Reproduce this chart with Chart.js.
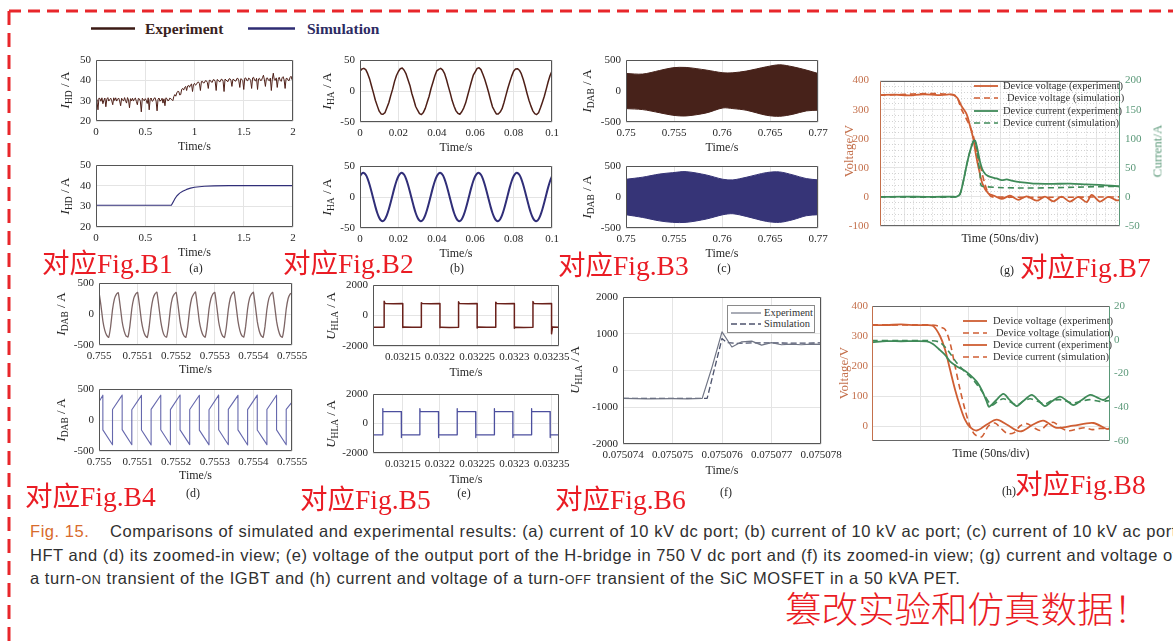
<!DOCTYPE html>
<html><head><meta charset="utf-8">
<script src="https://cdn.jsdelivr.net/npm/chart.js"></script>
<style>
html,body{margin:0;padding:0;background:#fff;}
#stage{position:relative;width:1173px;height:641px;overflow:hidden;background:#fff;font-family:'Liberation Serif',serif;}
canvas{position:absolute;}
.yt{position:absolute;white-space:nowrap;transform:translate(-50%,-50%) rotate(-90deg);font-size:13px;color:#262626;line-height:1;}
.yt sub{font-size:9.5px;vertical-align:-3px;}
.red{position:absolute;color:#ea1c24;font-family:'Liberation Serif','Noto Sans CJK SC',serif;font-size:27.5px;white-space:nowrap;transform:translateY(-50%);line-height:1;z-index:5;}
.pl{position:absolute;font-size:12px;color:#262626;transform:translate(-50%,-50%);line-height:1;}
.lg{position:absolute;font-size:10.5px;color:#333;white-space:nowrap;line-height:1;transform:translateY(-50%);}
.cap{position:absolute;left:30px;font-family:'Liberation Sans',Arial,sans-serif;font-size:16.5px;letter-spacing:0.55px;color:#303030;white-space:nowrap;transform:translateY(-50%);line-height:1;}
.sc{font-size:12.5px;}
</style></head>
<body><div id="stage"></div>
<script>
// ================= DATA =================
// (a) current of 10 kV dc port
const A_t0 = 0, A_dt = 0.01;
const A_exp = [30.5,29.6,25.5,31.3,31.0,29.7,31.4,28.5,30.2,31.3,27.0,30.8,31.5,29.8,30.6,31.2,29.9,28.0,31.4,30.1,
 31.4,29.8,30.7,31.3,29.9,27.5,31.2,30.4,29.8,31.5,30.0,28.8,31.5,30.3,26.5,31.0,29.9,31.2,29.8,30.9,
 31.3,29.6,28.0,31.1,30.9,29.8,24.5,31.2,30.6,29.9,31.0,30.2,28.6,31.4,25.5,30.8,31.3,29.7,30.0,31.2,
 31.4,29.8,25.0,30.8,31.3,29.7,30.4,31.2,28.8,30.9,27.5,31.4,31.0,29.9,30.2,31.3,30.9,30.5,30.0,32.0,
 33.0,32.2,33.8,34.6,34.5,32.8,33.0,35.6,36.0,35.2,36.5,37.0,35.0,37.2,37.5,36.6,37.8,38.2,34.5,38.0,
 38.5,37.6,38.0,39.0,39.2,38.4,35.0,39.4,39.5,38.7,38.8,39.8,39.8,39.0,36.0,40.0,40.0,39.2,39.0,40.3,
 40.3,39.5,35.0,40.4,40.1,39.4,39.3,40.5,40.5,39.6,34.5,40.6,40.2,39.6,39.5,40.7,40.8,39.9,37.0,40.5,
 40.4,39.7,39.6,40.9,41.0,39.8,36.5,40.8,40.5,39.9,35.5,41.0,41.2,40.0,39.8,41.1,40.8,39.9,36.0,41.2,
 41.5,40.0,39.7,41.0,35.5,40.7,41.0,39.9,40.0,41.3,42.5,40.2,37.0,41.0,41.2,40.1,39.8,41.1,35.0,40.6,
 43.5,40.3,40.0,41.2,36.5,40.4,41.5,40.0,39.5,41.3,41.8,40.2,36.0,40.9,41.0,40.1,39.8,41.4,42.0,40.3,
 40.5];
const A_sim_t = [0,0.765,0.78,0.80,0.82,0.85,0.88,0.92,0.96,1.0,1.05,1.1,1.2,1.35,1.5,2.0];
const A_sim   = [30.5,30.5,31.8,33.6,35.0,36.4,37.3,38.2,38.8,39.2,39.5,39.7,39.9,40.0,40.0,40.0];
const A_xticks = [0,0.5,1,1.5,2], A_xlabels = ['0','0.5','1','1.5','2'];
const A_yticks = [20,30,40,50], A_ylabels = ['20','30','40','50'];

// (b) current of 10 kV ac port
const B_t0 = 0, B_dt = 0.001;
const B_exp = [32,35.5,36.5,34.5,28,19.5,8,-3,-15,-24,-32.5,-37,-37.5,-35,-27,-19,-7.5,3,15.5,25,
 31.5,36,37,33.5,27.5,18,9,-4,-14,-25,-31,-36.5,-38,-34.5,-28,-18,-8.5,4,14,24.5,
 32.5,35,36.5,34,28.5,19,7.5,-3.5,-15.5,-24.5,-32,-36,-37.5,-33.5,-27.5,-19.5,-8,3.5,15,25.5,
 31,36.5,37.5,34.5,27,18.5,8.5,-2.5,-14.5,-25.5,-31.5,-37,-37,-34,-28.5,-18.5,-7,4.5,14.5,24,
 32,35.5,36,33.5,28,19,8,-4,-15,-24,-32,-36.5,-38,-35,-27,-18,-8.5,3,15,25,
 32];
const B_sim = [33.5,38.0,38.8,35.8,29.3,19.8,8.5,-3.7,-15.5,-25.8,-33.5,-38.0,-38.8,-35.8,-29.3,-19.8,-8.5,3.7,15.5,25.8,
 33.5,38.0,38.8,35.8,29.3,19.8,8.5,-3.7,-15.5,-25.8,-33.5,-38.0,-38.8,-35.8,-29.3,-19.8,-8.5,3.7,15.5,25.8,
 33.5,38.0,38.8,35.8,29.3,19.8,8.5,-3.7,-15.5,-25.8,-33.5,-38.0,-38.8,-35.8,-29.3,-19.8,-8.5,3.7,15.5,25.8,
 33.5,38.0,38.8,35.8,29.3,19.8,8.5,-3.7,-15.5,-25.8,-33.5,-38.0,-38.8,-35.8,-29.3,-19.8,-8.5,3.7,15.5,25.8,
 33.5,38.0,38.8,35.8,29.3,19.8,8.5,-3.7,-15.5,-25.8,-33.5,-38.0,-38.8,-35.8,-29.3,-19.8,-8.5,3.7,15.5,25.8,
 33.5];
const B_xticks = [0,0.02,0.04,0.06,0.08,0.1], B_xlabels = ['0','0.02','0.04','0.06','0.08','0.1'];
const B_yticks = [-50,0,50], B_ylabels = ['-50','0','50'];

// (c) DAB current envelope (HFT)
const C_t = [0.75,0.75174,0.75348,0.75487,0.75626,0.75835,0.76009,0.76113,0.76252,0.76461,0.766,0.76739,0.76878,0.77];
const C_exp_hi = [283,273,330,375,380,338,294,294,321,390,423,390,338,283];
const C_exp_lo = [-284,-300,-350,-391,-402,-354,-273,-284,-310,-391,-408,-375,-321,-310];
const C_sim_hi = [286,320,370,393,409,356,286,276,318,393,404,356,297,276];
const C_sim_lo = [-286,-330,-385,-409,-409,-356,-286,-270,-313,-393,-409,-366,-302,-286];
const C_xticks = [0.75,0.755,0.76,0.765,0.77], C_xlabels = ['0.75','0.755','0.76','0.765','0.77'];
const C_yticks = [-500,0,500], C_ylabels = ['-500','0','500'];

// (d) zoomed-in DAB current
const D_t0 = 0.755, D_dt = 0.000005;
const D_exp = [355,140,-110,-265,-345,-378,-210,70,245,318,
 345,125,-125,-272,-352,-372,-195,85,252,322,
 350,135,-115,-268,-348,-380,-205,75,248,325,
 352,128,-120,-275,-355,-374,-198,82,255,320,
 348,132,-118,-270,-350,-378,-202,78,250,318,
 355,130,-122,-266,-346,-376,-200,80,246,322,
 350,126,-125,-272,-352,-380,-206,72,250,326,
 358,138,-112,-268,-350,-374,-196,84,252,320,
 352,130,-120,-270,-348,-378,-204,76,248,318,
 350,134,-116,-266,-352,-376,-200,80,250,322,
 340];
const D_sim_t = [0.755,0.75501,0.75501,0.755035,0.755035,0.75506,0.75506,0.755085,0.755085,0.75511,0.75511,0.755135,0.755135,0.75516,0.75516,0.755185,0.755185,0.75521,0.75521,0.755235,0.755235,0.75526,0.75526,0.755285,0.755285,0.75531,0.75531,0.755335,0.755335,0.75536,0.75536,0.755385,0.755385,0.75541,0.75541,0.755435,0.755435,0.75546,0.75546,0.755485,0.755485,0.7555];
const D_sim = [295,400,-160,-400,170,402,-155,-398,165,398,-162,-402,172,400,-158,-400,168,403,-160,-397,170,399,-163,-401,166,401,-157,-399,171,398,-160,-403,168,402,-161,-398,169,400,-159,-400,170,290];
const D_xticks = [0.755,0.7551,0.7552,0.7553,0.7554,0.7555], D_xlabels = ['0.755','0.7551','0.7552','0.7553','0.7554','0.7555'];
const D_yticks = [-500,0,500], D_ylabels = ['-500','0','500'];

// (e) H-bridge output voltage
const E_exp_t = [0.03211,0.032118,0.032125,0.032125,0.0321262,0.0321375,0.03215,0.03215,0.0321512,0.0321625,0.032175,0.032175,0.0321762,0.0321875,0.0322,0.0322,0.0322012,0.0322125,0.032225,0.032225,0.0322262,0.0322375,0.03225,0.03225,0.0322512,0.0322625,0.032275,0.032275,0.0322762,0.0322875,0.0323,0.0323,0.0323012,0.0323125,0.032325,0.032325,0.0323262,0.0323375,0.03235,0.03235,0.0323512,0.03236];
const E_exp = [-765,-775,-770,930,790,775,785,-790,-760,-775,-765,840,780,770,780,-800,-765,-780,-770,900,785,775,780,-820,-760,-775,-770,870,790,775,785,-830,-765,-780,-770,920,790,775,780,-1200,-760,-770];
const E_sim_t = [0.03211,0.032123,0.032123,0.0321234,0.032148,0.032148,0.0321484,0.032173,0.032173,0.0321734,0.032198,0.032198,0.0321984,0.032223,0.032223,0.0322234,0.032248,0.032248,0.0322484,0.032273,0.032273,0.0322734,0.032298,0.032298,0.0322984,0.032323,0.032323,0.0323234,0.032348,0.032348,0.0323484,0.03236];
const E_sim = [-770,-770,1000,800,800,-950,-770,-770,1000,800,800,-950,-770,-770,1000,800,800,-950,-770,-770,1000,800,800,-950,-770,-770,1000,800,800,-950,-770,-770];
const E_xticks = [0.03215,0.0322,0.03225,0.0323,0.03235], E_xlabels = ['0.03215','0.0322','0.03225','0.0323','0.03235'];
const E_yticks = [-2000,0,2000], E_ylabels = ['-2000','0','2000'];

// (f) zoomed-in step
const F_exp_t = [0.075074,0.0750745,0.075075,0.0750753,0.0750756,0.0750758,0.075076,0.0750762,0.0750764,0.0750766,0.0750768,0.075077,0.0750772,0.0750774,0.0750776,0.0750778,0.075078];
const F_exp = [-760,-770,-765,-770,-760,100,1050,640,780,800,690,760,700,720,700,720,710];
const F_sim_t = [0.075074,0.0750757,0.075076,0.0750761,0.0750763,0.0750766,0.075077,0.0750775,0.075078];
const F_sim = [-760,-760,870,760,740,750,750,745,750];
const F_xticks = [0.075074,0.075075,0.075076,0.075077,0.075078], F_xlabels = ['0.075074','0.075075','0.075076','0.075077','0.075078'];
const F_yticks = [-2000,-1000,0,1000,2000], F_ylabels = ['-2000','-1000','0','1000','2000'];
const F_legend = ['Experiment','Simulation'];

// (g) IGBT turn-on (x in ns)
const G_v_exp_t = [-25,-10,5,20,35,45,51,55.6,60,65.3,68.7,72.2,75,78.5,82,87.8,94,101.7,110.4,119,127.8,138.2,146.9,155.5,164.2,172.9,181.6,190.3,195.5,204.2,212.8,221.6,225];
const G_v_exp = [350,352,349,353,350,352,352,340,312,284,245,200,144,88,43,12,4,-7,4,-10,2,-13,1,-15,1,-16,0,-18,7,-16,0,-12,-10];
const G_v_sim_t = [-25,52,60,70.5,76,80,84.4,88,92,225];
const G_v_sim = [350,350,300,228,155,100,43,12,0,0];
const G_i_exp_t = [-25,0,25,50,54.9,58.3,61.8,65.3,68.7,72.2,74,76.4,79.2,82.6,87.8,96.5,101.8,107,112,120.8,138,155,173,190,207.5,225];
const G_i_exp = [0,0.5,0,0.5,0.5,4.7,27,55,78,95.5,97,83,60.7,44,35.7,31.7,29,30,28,25.5,22.7,22.5,22.7,21.5,20.4,18];
const G_i_sim_t = [-25,54,58.3,61.8,65.3,68.7,72.2,74,76.4,79.2,82,225];
const G_i_sim = [0,0,4.7,27,55,78,95.5,97,75,40,18,18];
const G_xticks = [0,50,100,150,200];
const G_xminor = [-20,-10,10,20,30,40,60,70,80,90,110,120,130,140,160,170,180,190,210,220];
const G_yLticks = [-100,0,100,200,300,400], G_yLlabels = ['-100','0','100','200','300','400'];
const G_yLminor = [-80,-60,-40,-20,20,40,60,80,120,140,160,180,220,240,260,280,320,340,360,380];
const G_yRticks = [-50,0,50,100,150,200], G_yRlabels = ['-50','0','50','100','150','200'];
const G_legend = ['Device voltage (experiment)','Device voltage (simulation)','Device current (experiment)','Device current (simulation)'];

// (h) SiC MOSFET turn-off (x in ns)
const H_v_exp_t = [0,15,30,45,56.5,63.4,70.3,75.5,80.6,85.8,91,96.1,101.3,108.2,118.6,128.9,139.2,153,166.6,177,191,208,228.7,242.6,246];
const H_v_exp = [337,336,339,336,336,333,300,255,189,122,66,21,-4,-15,5,21,5,-18,5,18,-6,1,10,-10,-8];
const H_v_sim_t = [0,40,65,70.3,75.5,80.6,85.8,91,96.1,101.3,106.5,113.4,120.3,127,134,140,147,153,160,167,174,181,188,196,204,212,220,228,236,246];
const H_v_sim = [337,337,336,330,322,278,200,122,55,0,-29,-36,0,10,-10,-25,-22,0,8,-5,-15,5,12,-8,-16,-10,-6,-12,-8,-10];
const H_i_exp_t = [0,15,30,45,56.5,63,69,75.5,80.6,87.7,94.4,101.3,108.2,113.4,118.6,121,128,135.8,142,149.6,157,165.1,172,178.8,186,194.3,201,208.1,216,225.3,232,239.1,246];
const H_i_exp = [-1.5,-0.8,-0.9,-0.8,-1,-2.5,-5.5,-9,-12.8,-15.8,-17.8,-20.8,-24.8,-29.7,-36.7,-39.7,-36,-32.1,-35.5,-39.3,-36,-32.7,-36,-39.3,-36.5,-33.7,-36,-38.7,-36,-32.7,-34,-35.7,-33];
const H_i_sim_t = [0,30,60,70,78,87.7,96,104.7,115,123.7,130,135.8,142,149.6,156,163.4,171,178.8,186,194.3,201,208,216,225,235,246];
const H_i_sim = [-0.5,-0.5,-0.5,-1.5,-6,-13.8,-19,-23.8,-31.7,-38.7,-36.5,-35,-36.5,-38.7,-36.5,-35,-36.5,-38,-36,-35.5,-36.5,-37.5,-36.5,-35.5,-36.5,-36];
const H_xticks = [50,100,150,200];
const H_yLticks = [0,100,200,300,400], H_yLlabels = ['0','100','200','300','400'];
const H_yRticks = [-60,-40,-20,0,20], H_yRlabels = ['-60','-40','-20','0','20'];
const H_legend = ['Device voltage (experiment)','Device voltage (simulation)','Device current (experiment)','Device current (simulation)'];

// ================= STYLE / HELPERS =================
const FONT = 'Liberation Serif';
const TICK = '#262626';
const GRID = '#e4e4e4';
const EXP = '#4e1f17', SIM = '#302e78';
const ORG = '#cf5e33', GRN = '#3f8a58';
const stage = document.getElementById('stage');

const pts = (xs, ys) => ys.map((y, i) => ({x: xs[i], y}));
const sampled = (t0, dt, ys) => ys.map((y, i) => ({x: t0 + i * dt, y}));

const frame = {
  id: 'frame',
  afterDatasetsDraw(chart, args, o) {
    const a = chart.chartArea, ctx = chart.ctx;
    const l = Math.round(a.left) + 0.5, r = Math.round(a.right) - 0.5, t = Math.round(a.top) + 0.5, b = Math.round(a.bottom) - 0.5;
    const seg = (x1, y1, x2, y2, c) => { ctx.beginPath(); ctx.moveTo(x1, y1); ctx.lineTo(x2, y2); ctx.strokeStyle = c; ctx.stroke(); };
    const c = o.color || '#555';
    ctx.save(); ctx.lineWidth = 1; ctx.setLineDash([]);
    seg(l, t, r, t, c); seg(l, b, r, b, c); seg(l, t, l, b, o.left || c); seg(r, t, r, b, o.right || c);
    ctx.restore();
  }
};

function hAxis(min, max, ticks, labels, m, title, o = {}) {
  return {
    type: 'linear', position: 'bottom', min, max, display: true,
    afterBuildTicks: s => { s.ticks = ticks.map(v => ({value: v})); },
    afterFit: s => { s.height = o.h !== undefined ? o.h : m.b; },
    grid: {display: o.grid !== false, color: o.gridColor || GRID, lineWidth: 1, drawTicks: false},
    border: {display: false, dash: o.dash || []},
    ticks: {display: !!labels, autoSkip: false, maxRotation: 0, minRotation: 0, padding: 5, color: TICK,
      font: {family: FONT, size: 11}, callback: (v, i) => labels ? labels[i] : ''},
    title: {display: !!title, text: title || '', color: TICK, font: {family: FONT, size: 12}, padding: 0}
  };
}
function vAxis(min, max, ticks, labels, width, pos, o = {}) {
  return {
    type: 'linear', position: pos, min, max, display: true,
    afterBuildTicks: s => { s.ticks = ticks.map(v => ({value: v})); },
    afterFit: s => { s.width = width; },
    grid: {display: o.grid !== false, color: o.gridColor || GRID, lineWidth: 1, drawTicks: false},
    border: {display: false, dash: o.dash || []},
    ticks: {display: !!labels, autoSkip: false, padding: o.pad || 5, color: o.color || TICK,
      font: {family: FONT, size: 11}, callback: (v, i) => labels ? labels[i] : ''},
    title: {display: false}
  };
}
function line(data, color, width, extra = {}) {
  return Object.assign({data, borderColor: color, backgroundColor: color, borderWidth: width, pointRadius: 0,
    tension: 0, fill: false, xAxisID: 'x', yAxisID: 'y'}, extra);
}
function mk(box, m, datasets, scales, frameOpts = {}) {
  const [L, T, R, B] = box;
  const c = document.createElement('canvas');
  const w = R - L + m.l + m.r, h = B - T + m.t + m.b;
  c.width = w; c.height = h;
  c.style.left = (L - m.l) + 'px'; c.style.top = (T - m.t) + 'px';
  c.style.width = w + 'px'; c.style.height = h + 'px';
  stage.appendChild(c);
  const hasRight = Object.values(scales).some(s => s.position === 'right');
  return new Chart(c, {
    type: 'line',
    data: {datasets},
    options: {
      responsive: false, animation: false, devicePixelRatio: 1, events: [],
      layout: {padding: {left: 0, top: m.t, right: hasRight ? 0 : m.r, bottom: 0}},
      plugins: {legend: {display: false}, tooltip: {enabled: false}, frame: frameOpts},
      elements: {point: {radius: 0}, line: {borderJoinStyle: 'round'}},
      scales
    },
    plugins: [frame]
  });
}
function html(s) { stage.insertAdjacentHTML('beforeend', s); }
function ytitle(cx, cy, inner, color) { html(`<div class="yt" style="left:${cx}px;top:${cy}px;${color ? 'color:' + color : ''}">${inner}</div>`); }
function legRow(x1, x2, y, color, dash, width, text, tx, size) {
  html(`<svg style="position:absolute;left:${x1}px;top:${y - 3}px" width="${x2 - x1}" height="6"><line x1="0" y1="3" x2="${x2 - x1}" y2="3" stroke="${color}" stroke-width="${width}" ${dash ? `stroke-dasharray="${dash}"` : ''}/></svg>`);
  html(`<div class="lg" style="left:${tx}px;top:${y}px;font-size:${size}px">${text}</div>`);
}

Chart.defaults.font.family = FONT;

// ================= CHARTS =================
const mA = {l: 34, r: 12, t: 14, b: 33};
mk([96, 60, 293, 121], mA, [line(sampled(A_t0, A_dt, A_exp), EXP, 1)],
  {x: hAxis(0, 2, A_xticks, A_xlabels, mA, 'Time/s'), y: vAxis(20, 50, A_yticks, A_ylabels, mA.l, 'left')});
mk([96, 165, 293, 227], mA, [line(pts(A_sim_t, A_sim), SIM, 1.1)],
  {x: hAxis(0, 2, A_xticks, A_xlabels, mA, 'Time/s'), y: vAxis(20, 50, A_yticks, A_ylabels, mA.l, 'left')});

const mB = {l: 34, r: 16, t: 14, b: 33};
mk([360, 60, 552, 122], mB, [line(sampled(B_t0, B_dt, B_exp), EXP, 1.5)],
  {x: hAxis(0, 0.1, B_xticks, B_xlabels, mB, 'Time/s'), y: vAxis(-50, 50, B_yticks, B_ylabels, mB.l, 'left')});
mk([360, 166, 552, 228], mB, [line(sampled(B_t0, B_dt, B_sim), SIM, 2, {tension: 0.2})],
  {x: hAxis(0, 0.1, B_xticks, B_xlabels, mB, 'Time/s'), y: vAxis(-50, 50, B_yticks, B_ylabels, mB.l, 'left')});

const mC = {l: 40, r: 18, t: 14, b: 33};
mk([626, 60, 818, 122], mC, [
    line(pts(C_t, C_exp_hi), '#47221a', 1, {fill: '+1', backgroundColor: '#47221a', tension: 0.3}),
    line(pts(C_t, C_exp_lo), '#47221a', 1, {tension: 0.3})],
  {x: hAxis(0.75, 0.77, C_xticks, C_xlabels, mC, 'Time/s'), y: vAxis(-500, 500, C_yticks, C_ylabels, mC.l, 'left')});
mk([626, 166, 818, 228], mC, [
    line(pts(C_t, C_sim_hi), '#363477', 1, {fill: '+1', backgroundColor: '#363477', tension: 0.3}),
    line(pts(C_t, C_sim_lo), '#363477', 1, {tension: 0.3})],
  {x: hAxis(0.75, 0.77, C_xticks, C_xlabels, mC, 'Time/s'), y: vAxis(-500, 500, C_yticks, C_ylabels, mC.l, 'left')});

const mD = {l: 34, r: 24, t: 14, b: 32};
mk([99, 283, 292, 345], mD, [line(sampled(D_t0, D_dt, D_exp), '#7d6565', 1.3, {tension: 0.1})],
  {x: hAxis(0.755, 0.7555, D_xticks, D_xlabels, mD, 'Time/s'), y: vAxis(-500, 500, D_yticks, D_ylabels, mD.l, 'left')});
mk([99, 389, 292, 451], mD, [line(pts(D_sim_t, D_sim), '#6668ad', 1.1)],
  {x: hAxis(0.755, 0.7555, D_xticks, D_xlabels, mD, 'Time/s'), y: vAxis(-500, 500, D_yticks, D_ylabels, mD.l, 'left')});

const mE = {l: 40, r: 24, t: 14, b: 34};
mk([373, 285, 559, 346], mE, [line(pts(E_exp_t, E_exp), '#6a211b', 1.5)],
  {x: hAxis(0.03211, 0.03236, E_xticks, E_xlabels, mE, 'Time/s'), y: vAxis(-2000, 2000, E_yticks, E_ylabels, mE.l, 'left')});
mk([373, 394, 559, 453], mE, [line(pts(E_sim_t, E_sim), '#4c4f9e', 1.3)],
  {x: hAxis(0.03211, 0.03236, E_xticks, E_xlabels, mE, 'Time/s'), y: vAxis(-2000, 2000, E_yticks, E_ylabels, mE.l, 'left')});

const mF = {l: 42, r: 30, t: 14, b: 34};
mk([623, 297, 821, 444], mF, [
    line(pts(F_exp_t, F_exp), '#707585', 1.2),
    line(pts(F_sim_t, F_sim), '#4d536d', 1.3, {borderDash: [6, 3]})],
  {x: hAxis(0.075074, 0.075078, F_xticks, F_xlabels, mF, 'Time/s'), y: vAxis(-2000, 2000, F_yticks, F_ylabels, mF.l, 'left')});

const mG = {l: 42, r: 32, t: 14, b: 20};
mk([880, 77, 1120, 226], mG, [
    line(pts(G_i_sim_t, G_i_sim), GRN, 1.6, {borderDash: [6, 4], yAxisID: 'y2', tension: 0.3}),
    line(pts(G_i_exp_t, G_i_exp), GRN, 1.8, {yAxisID: 'y2', tension: 0.3}),
    line(pts(G_v_sim_t, G_v_sim), ORG, 1.6, {borderDash: [6, 4], tension: 0.3}),
    line(pts(G_v_exp_t, G_v_exp), ORG, 1.8, {tension: 0.3})],
  {
    x: hAxis(-25, 225, G_xticks, null, mG, 'Time (50ns/div)'),
    xm: hAxis(-25, 225, G_xminor, null, mG, null, {h: 0, gridColor: '#d2d2d2', dash: [1, 2]}),
    y: vAxis(-100, 400, G_yLticks, G_yLlabels, mG.l, 'left', {color: '#c4704c', pad: 11}),
    ym: vAxis(-100, 400, G_yLminor, null, 0, 'left', {gridColor: '#d2d2d2', dash: [1, 2]}),
    y2: vAxis(-50, 200, G_yRticks, G_yRlabels, mG.r, 'right', {color: '#5a9878', grid: false, pad: 5})
  }, {left: '#c4704c', right: '#5a9878', color: '#666'});

const mH = {l: 32, r: 28, t: 14, b: 20};
mk([872, 306, 1110, 441], mH, [
    line(pts(H_i_sim_t, H_i_sim), GRN, 1.6, {borderDash: [6, 4], yAxisID: 'y2', tension: 0.3}),
    line(pts(H_i_exp_t, H_i_exp), GRN, 1.8, {yAxisID: 'y2', tension: 0.3}),
    line(pts(H_v_sim_t, H_v_sim), ORG, 1.6, {borderDash: [6, 4], tension: 0.3}),
    line(pts(H_v_exp_t, H_v_exp), ORG, 1.8, {tension: 0.3})],
  {
    x: hAxis(0, 246, H_xticks, null, mH, 'Time (50ns/div)'),
    y: vAxis(-50, 400, H_yLticks, H_yLlabels, mH.l, 'left', {color: '#c4704c', pad: 4}),
    y2: vAxis(-60, 20, H_yRticks, H_yRlabels, mH.r, 'right', {color: '#5a9878', grid: false, pad: 4})
  }, {left: '#c4704c', right: '#5a9878', color: '#666'});

// ================= TEXT OVERLAYS =================
// dashed border
html(`<svg style="position:absolute;left:0;top:0;z-index:6" width="1173" height="641">
<line x1="9" y1="11" x2="1173" y2="11" stroke="#e8262b" stroke-width="3" stroke-dasharray="12 7"/>
<line x1="9" y1="11" x2="9" y2="641" stroke="#e8262b" stroke-width="3" stroke-dasharray="14 8"/></svg>`);

// global legend
html(`<svg style="position:absolute;left:91px;top:26px" width="44" height="5"><line x1="0" y1="2.5" x2="44" y2="2.5" stroke="#3b1a14" stroke-width="2.5"/></svg>`);
html(`<div class="lg" style="left:145px;top:29px;font-size:15.5px;font-weight:bold;color:#3a2220">Experiment</div>`);
html(`<svg style="position:absolute;left:248px;top:26px" width="47" height="5"><line x1="0" y1="2.5" x2="47" y2="2.5" stroke="#2e2c73" stroke-width="2.5"/></svg>`);
html(`<div class="lg" style="left:307px;top:29px;font-size:15.5px;font-weight:bold;color:#2c2b63">Simulation</div>`);

// y titles
const IHD = '<i>I</i><sub>HD</sub> / A', IHA = '<i>I</i><sub>HA</sub> / A', IDAB = '<i>I</i><sub>DAB</sub> / A', UHLA = '<i>U</i><sub>HLA</sub> / A';
ytitle(66, 90, IHD); ytitle(66, 196, IHD);
ytitle(328, 91, IHA); ytitle(328, 197, IHA);
ytitle(588, 91, IDAB); ytitle(588, 197, IDAB);
ytitle(62, 314, IDAB); ytitle(62, 420, IDAB);
ytitle(332, 316, UHLA); ytitle(332, 424, UHLA);
ytitle(576, 370, UHLA);
ytitle(848, 151, 'Voltage/V', '#c4704c');
ytitle(1157, 151, 'Current/A', '#5a9878');
ytitle(843, 373, 'Voltage/V', '#c4704c');

// legends (f), (g), (h)
html(`<div style="position:absolute;left:727px;top:305px;width:86px;height:26px;border:1px solid #8a8a8a;background:#fff"></div>`);
legRow(731, 761, 312.5, '#707585', null, 1.2, F_legend[0], 764, 10.5);
legRow(731, 761, 323.5, '#4d536d', '6 3', 1.3, F_legend[1], 764, 10.5);

legRow(974, 998, 86, ORG, null, 1.8, G_legend[0], 1003, 10.5);
legRow(974, 998, 98, ORG, '6 4', 1.6, G_legend[1], 1007, 10.5);
legRow(974, 998, 110.5, GRN, null, 1.8, G_legend[2], 1003, 10.5);
legRow(974, 998, 122.5, GRN, '6 4', 1.6, G_legend[3], 1003, 10.5);

legRow(963, 987, 320.7, ORG, null, 1.8, H_legend[0], 993, 10.5);
legRow(963, 987, 333, ORG, '6 4', 1.6, H_legend[1], 996, 10.5);
legRow(963, 987, 345, ORG, null, 1.8, H_legend[2], 993, 10.5);
legRow(963, 987, 357.3, ORG, '6 4', 1.6, H_legend[3], 993, 10.5);

// panel letters
[['(a)',196,268],['(b)',457,268],['(c)',724,268],['(d)',193,493],['(e)',464,493],['(f)',726,492],['(g)',1007,270],['(h)',1009,491]]
  .forEach(([t, x, y]) => html(`<div class="pl" style="left:${x}px;top:${y}px">${t}</div>`));

// red annotations
[['对应Fig.B1',42,264],['对应Fig.B2',283,264],['对应Fig.B3',558,266],['对应Fig.B7',1020,268],
 ['对应Fig.B4',25,497],['对应Fig.B5',300,500],['对应Fig.B6',555,500],['对应Fig.B8',1015,485]]
  .forEach(([t, x, y]) => html(`<div class="red" style="left:${x}px;top:${y}px">${t}</div>`));
html(`<div class="red" style="left:785px;top:608px;font-size:36.5px;font-family:'Noto Sans CJK SC',sans-serif;font-weight:300">篡改实验和仿真数据！</div>`);

// caption
html(`<div class="cap" style="top:531px"><span style="display:inline-block;width:80px;color:#d86b2c">Fig. 15.</span>Comparisons of simulated and experimental results: (a) current of 10 kV dc port; (b) current of 10 kV ac port; (c) current of 10 kV ac port of</div>`);
html(`<div class="cap" style="top:555px">HFT and (d) its zoomed-in view; (e) voltage of the output port of the H-bridge in 750 V dc port and (f) its zoomed-in view; (g) current and voltage of</div>`);
html(`<div class="cap" style="top:578px">a turn-<span class="sc">ON</span> transient of the IGBT and (h) current and voltage of a turn-<span class="sc">OFF</span> transient of the SiC MOSFET in a 50 kVA PET.</div>`);
</script>
</body></html>
